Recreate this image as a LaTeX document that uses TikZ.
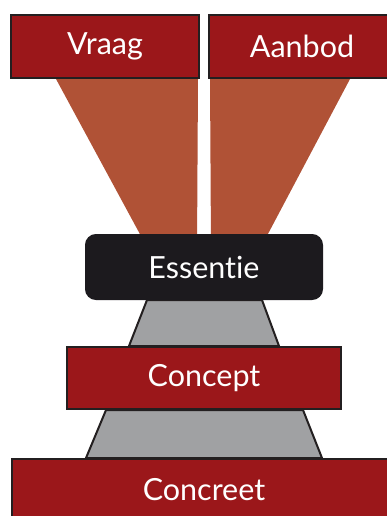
\documentclass[tikz,border=0pt]{standalone}
\usepackage{fontspec}
\setmainfont{Lato}[Ligatures=NoCommon]
\usetikzlibrary{calc,backgrounds}

\definecolor{donkerrood}{RGB}{155,23,26}
\definecolor{roest}{RGB}{176,82,54}
\definecolor{lichtgrijs}{RGB}{160,161,163}
\definecolor{bijnazwart}{RGB}{28,26,30}
\definecolor{rand}{RGB}{35,31,32}

\begin{document}
\begin{tikzpicture}[x=1pt,y=-1pt,
    blok/.style={draw=rand,line width=2pt,fill=donkerrood,text=white,inner sep=0pt,
      font=\fontsize{30.5}{30.5}\selectfont},
    kern/.style={blok,draw=bijnazwart,fill=bijnazwart,rounded corners=10pt},
    trechter/.style={fill=roest},
    steun/.style={draw=rand,line width=2pt,fill=lichtgrijs}]
\clip (0,0) rectangle (387,516);
% bovenste rij
\node[blok,minimum width=188,minimum height=63] (vraag) at (105,46.5) {Vraag};
\node[blok,minimum width=186,minimum height=63] (aanbod) at (302,46.5) {Aanbod};
% midden
\node[kern,minimum width=236,minimum height=64] (essentie) at (204,267) {Essentie};
\node[blok,minimum width=274,minimum height=62] (concept) at (204,378) {Concept};
\node[blok,minimum width=384,minimum height=62] (concreet) at (204,490) {Concreet};
% trechters en steunen achter de blokken
\begin{pgfonlayer}{background}
\fill[trechter] ($(vraag.south west)+(46,0)$) -- ($(vraag.south east)+(-2,0)$)
  -- ($(essentie.north)+(-7,15)$) -- ($(essentie.north)+(-56,15)$) -- cycle;
\fill[trechter] ($(aanbod.south west)+(2,0)$) -- ($(aanbod.south west)+(142,0)$)
  -- ($(essentie.north)+(56,15)$) -- ($(essentie.north)+(7,15)$) -- cycle;
\filldraw[steun] ($(essentie.south)+(-57,0)$) -- ($(essentie.south)+(58,0)$)
  -- ($(concept.north)+(75,0)$) -- ($(concept.north)+(-75,0)$) -- cycle;
\filldraw[steun] ($(concept.south)+(-98,0)$) -- ($(concept.south)+(99,0)$)
  -- ($(concreet.north)+(118,0)$) -- ($(concreet.north)+(-118,0)$) -- cycle;
\end{pgfonlayer}
\end{tikzpicture}
\end{document}
